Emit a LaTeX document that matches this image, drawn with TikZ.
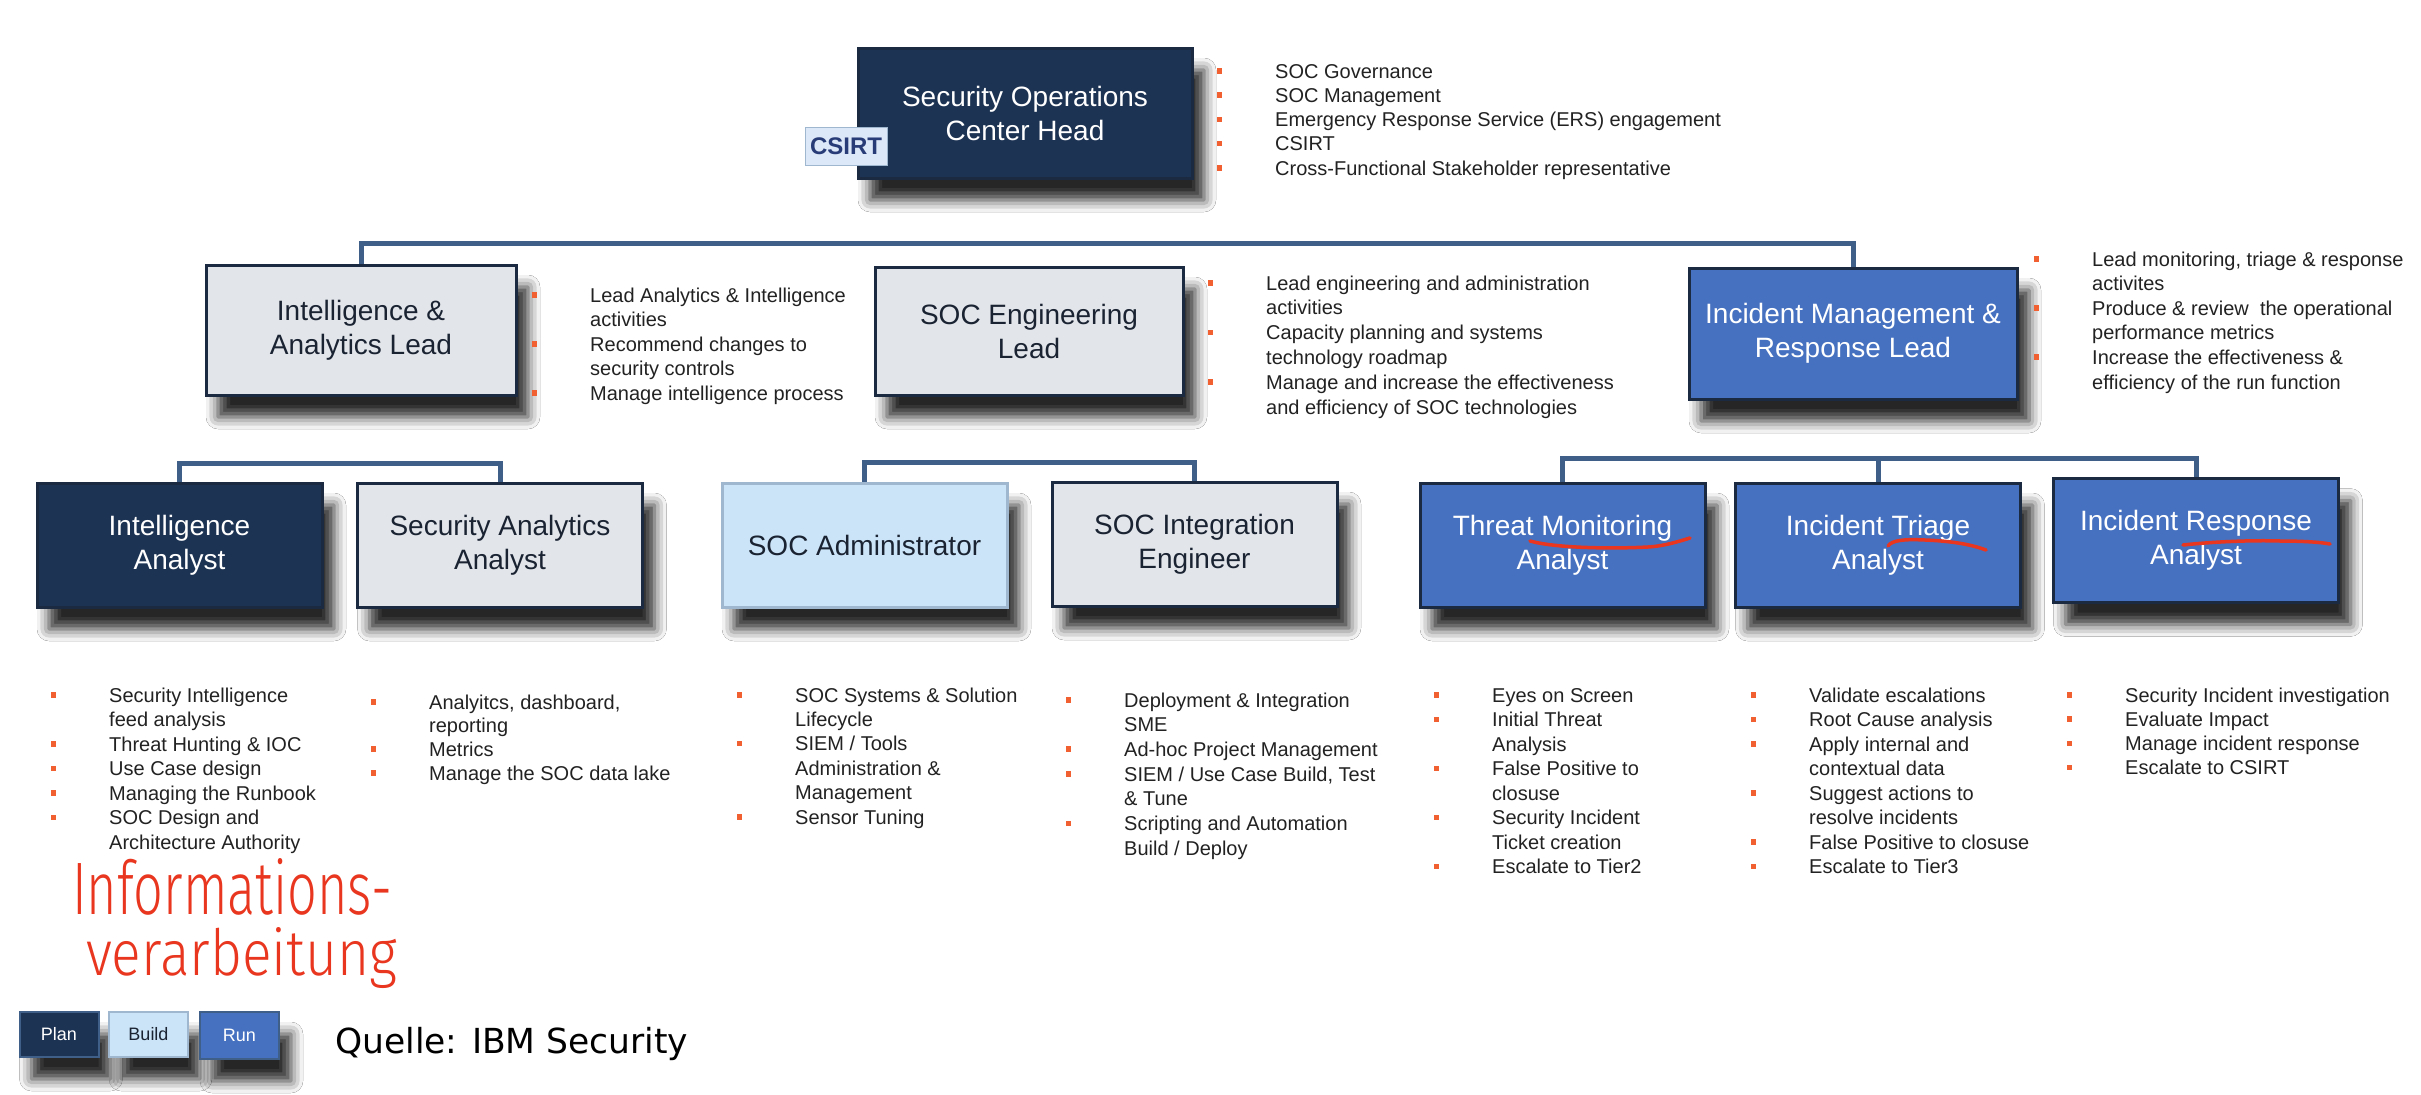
\documentclass[tikz,border=0pt]{standalone}
\usepackage{fontspec}
\usepackage{graphicx}
\setmainfont{Liberation Sans}
\newfontfamily\quellefont{DejaVu Sans}
\newfontfamily\handfont{Fira Sans Light}
\usetikzlibrary{shadows.blur}
\definecolor{navy}{HTML}{1D3353}
\definecolor{grayfill}{HTML}{E2E5EA}
\definecolor{lightblue}{HTML}{CCE4F8}
\definecolor{runblue}{HTML}{4671C0}
\definecolor{conncol}{HTML}{3F5E88}
\definecolor{boxborder}{HTML}{1B2A40}
\definecolor{buildborder}{HTML}{9FB8D0}
\definecolor{darktext}{HTML}{1A2332}
\definecolor{bodytext}{HTML}{222222}
\definecolor{bulcol}{HTML}{F06030}
\definecolor{redink}{HTML}{E8361F}
\definecolor{csirtfill}{HTML}{DCE7F7}
\definecolor{csirttext}{HTML}{283C78}
\tikzset{
  box/.style={draw=boxborder, line width=3pt, minimum width=285pt, minimum height=124pt,
    inner sep=0pt, align=center, font=\fontsize{28}{34}\selectfont,
    blur shadow={shadow xshift=12pt, shadow yshift=-22pt, shadow blur radius=12pt, shadow opacity=85}},
  planbox/.style={box, fill=navy, text=white},
  buildbox/.style={box, fill=lightblue, text=darktext, draw=buildborder},
  runbox/.style={box, fill=runblue, text=white},
  graybox/.style={box, fill=grayfill, text=darktext},
  legbox/.style={box, minimum width=79pt, minimum height=45pt, line width=2pt, font=\fontsize{18}{22}\selectfont},
  conn/.style={draw=conncol, line width=5pt, line join=miter},
  btext/.style={inner sep=0pt, anchor=base west, font=\fontsize{20}{24}\selectfont, text=bodytext},
  redline/.style={draw=redink, line width=3.5pt, line cap=round, line join=round},
}
\newcommand\blist[5]{%
  \foreach [count=\i] \b/\t in {#5} {
    \node[btext] (#4\i) at (#1, {#2+(\i-1)*#3}) {\t};
    \ifnum\b=1 \fill[bulcol] ({#1-58}, {#2+(\i-1)*#3-10}) rectangle +(4.5,5.5);\fi
  }%
}
\begin{document}
\begin{tikzpicture}[x=1pt,y=-1pt]
\useasboundingbox (0,0) rectangle (2421,1095);
\fill[white] (0,0) rectangle (2421,1095);

% ---- boxes
\node[planbox, minimum width=334pt, minimum height=130pt] (head) at (1025,113) {Security Operations\\Center Head};
\node[draw=buildborder, line width=1pt, fill=csirtfill, text=csirttext, inner sep=0pt,
  minimum width=82pt, minimum height=38pt, font=\fontsize{24}{28}\selectfont\bfseries] (csirt) at (846,146) {CSIRT};

\node[graybox, minimum width=310pt, minimum height=130pt] (ial) at (361,330) {Intelligence \&\\Analytics Lead};
\node[graybox, minimum width=308pt, minimum height=128pt] (sel) at (1029,331) {SOC Engineering\\Lead};
\node[runbox, minimum width=328pt, minimum height=131pt] (imr) at (1853,333.5) {Incident Management \&\\Response Lead};

\node[planbox] (ia) at (179.5,545) {Intelligence\\Analyst};
\node[graybox] (saa) at (500,545) {Security Analytics\\Analyst};
\node[buildbox] (adm) at (864.5,545) {SOC Administrator};
\node[graybox] (sie) at (1194.5,544) {SOC Integration\\Engineer};
\node[runbox] (tma) at (1562.5,545) {Threat Monitoring\\Analyst};
\node[runbox] (ita) at (1878,545) {Incident Triage\\Analyst};
\node[runbox] (ira) at (2196,540.5) {Incident Response\\Analyst};

% ---- connectors
\coordinate (bar0) at (0,243);
\coordinate (bar1) at (0,463);
\coordinate (bar2) at (0,462);
\coordinate (bar3) at (0,458);
\draw[conn] (ial.north) -- (ial.north |- bar0) -- (imr.north |- bar0) -- (imr.north);
\draw[conn] (ia.north) -- (ia.north |- bar1) -- (saa.north |- bar1) -- (saa.north);
\draw[conn] (adm.north) -- (adm.north |- bar2) -- (sie.north |- bar2) -- (sie.north);
\draw[conn] (tma.north) -- (tma.north |- bar3) -- (ira.north |- bar3) -- (ira.north);
\draw[conn] (ita.north) -- (ita.north |- bar3);

% ---- bullet lists
\blist{1275}{78}{24.3}{lh}{1/{SOC Governance}, 1/{SOC Management}, 1/{Emergency Response Service (ERS) engagement}, 1/{CSIRT}, 1/{Cross-Functional Stakeholder representative}}
\blist{590}{302}{24.5}{la}{1/{Lead Analytics \& Intelligence}, 0/{activities}, 1/{Recommend changes to}, 0/{security controls}, 1/{Manage intelligence process}}
\blist{1266}{290}{24.8}{le}{1/{Lead engineering and administration}, 0/{activities}, 1/{Capacity planning and systems}, 0/{technology roadmap}, 1/{Manage and increase the effectiveness}, 0/{and efficiency of SOC technologies}}
\blist{2092}{266}{24.6}{lm}{1/{Lead monitoring, triage \& response}, 0/{activites}, 1/{Produce \& review\ \ the operational}, 0/{performance metrics}, 1/{Increase the effectiveness \&}, 0/{efficiency of the run function}}

\blist{109}{702}{24.5}{ca}{1/{Security Intelligence}, 0/{feed analysis}, 1/{Threat Hunting \& IOC}, 1/{Use Case design}, 1/{Managing the Runbook}, 1/{SOC Design and}, 0/{Architecture Authority}}
\blist{429}{709}{23.7}{cb}{1/{Analyitcs, dashboard,}, 0/{reporting}, 1/{Metrics}, 1/{Manage the SOC data lake}}
\blist{795}{702}{24.4}{cc}{1/{SOC Systems \& Solution}, 0/{Lifecycle}, 1/{SIEM / Tools}, 0/{Administration \&}, 0/{Management}, 1/{Sensor Tuning}}
\blist{1124}{707}{24.7}{cd}{1/{Deployment \& Integration}, 0/{SME}, 1/{Ad-hoc Project Management}, 1/{SIEM / Use Case Build, Test}, 0/{\& Tune}, 1/{Scripting and Automation}, 0/{Build / Deploy}}
\blist{1492}{702}{24.5}{ce}{1/{Eyes on Screen}, 1/{Initial Threat}, 0/{Analysis}, 1/{False Positive to}, 0/{closuse}, 1/{Security Incident}, 0/{Ticket creation}, 1/{Escalate to Tier2}}
\blist{1809}{702}{24.5}{cf}{1/{Validate escalations}, 1/{Root Cause analysis}, 1/{Apply internal and}, 0/{contextual data}, 1/{Suggest actions to}, 0/{resolve incidents}, 1/{False Positive to closuse}, 1/{Escalate to Tier3}}
\blist{2125}{702}{24.3}{cg}{1/{Security Incident investigation}, 1/{Evaluate Impact}, 1/{Manage incident response}, 1/{Escalate to CSIRT}}

% ---- legend
\node[legbox, fill=navy, text=white, draw=conncol] (lplan) at (59,1034.5) {Plan};
\node[legbox, fill=lightblue, text=darktext, draw=buildborder] (lbuild) at (148.5,1034.5) {Build};
\node[legbox, fill=runblue, text=white, draw=conncol, minimum height=47pt] (lrun) at (239.5,1035.5) {Run};
\node[inner sep=0pt, anchor=base west, font=\quellefont\fontsize{34.5}{40}\selectfont] (quelle) at (335,1053) {Quelle: IBM Security};

% ---- handwritten annotations
\node[inner sep=0pt, anchor=base west, text=redink] (hw1) at (72,914) {\resizebox{320pt}{56pt}{\handfont Informations-}};
\node[inner sep=0pt, anchor=base west, text=redink] (hw2) at (86,975) {\resizebox{311pt}{48pt}{\handfont verarbeitung}};
\draw[redline] (1530,541) .. controls (1555,548) and (1610,549) .. (1648,547) .. controls (1665,546) and (1680,541) .. (1690,538);
\draw[redline] (1888,546) .. controls (1892,540) and (1905,539) .. (1925,540) .. controls (1950,541) and (1970,544) .. (1986,550);
\draw[redline] (2183,545) .. controls (2210,542) and (2250,540) .. (2280,541) .. controls (2300,541) and (2320,542) .. (2330,544);
\end{tikzpicture}
\end{document}
